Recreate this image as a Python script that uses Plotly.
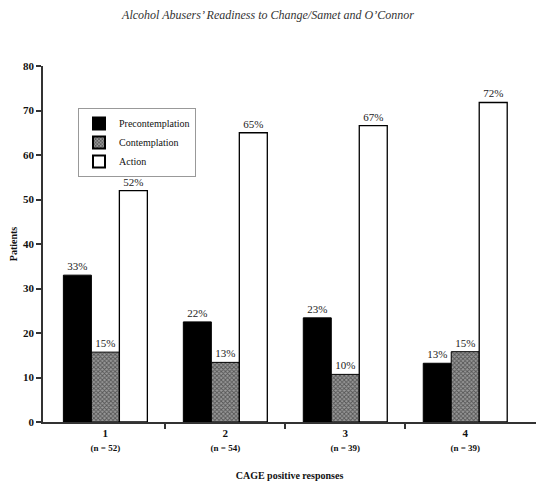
import plotly.graph_objects as go

categories = ["1", "2", "3", "4"]
n_labels = ["(n = 52)", "(n = 54)", "(n = 39)", "(n = 39)"]
precontemplation = [33.0, 22.5, 23.4, 13.2]
contemplation = [15.7, 13.4, 10.7, 15.8]
action = [52.0, 65.0, 66.6, 71.8]
prec_text = ["33%", "22%", "23%", "13%"]
cont_text = ["15%", "13%", "10%", "15%"]
action_text = ["52%", "65%", "67%", "72%"]

xpos = list(range(len(categories)))
serif = "Liberation Serif"

fig = go.Figure()
fig.add_trace(go.Bar(
    x=xpos, y=precontemplation, name="Precontemplation",
    marker=dict(color="black", line=dict(color="black", width=1)),
    text=prec_text, textposition="outside", cliponaxis=False,
    textfont=dict(family=serif, size=11, color="#222"),
))
fig.add_trace(go.Bar(
    x=xpos, y=contemplation, name="Contemplation",
    marker=dict(color="white", line=dict(color="black", width=1),
                pattern=dict(shape="x", size=3, solidity=0.5, fgcolor="#111", bgcolor="#999")),
    text=cont_text, textposition="outside", cliponaxis=False,
    textfont=dict(family=serif, size=11, color="#222"),
))
fig.add_trace(go.Bar(
    x=xpos, y=action, name="Action",
    marker=dict(color="white", line=dict(color="black", width=1.3)),
    text=action_text, textposition="outside", cliponaxis=False,
    textfont=dict(family=serif, size=11, color="#222"),
))

ticktext = [f"<b>{c}</b><br><span style='font-size:9px'><b>{n}</b></span>" for c, n in zip(categories, n_labels)]

fig.update_layout(
    width=536, height=484,
    margin=dict(l=43, r=0, t=66, b=62),
    paper_bgcolor="white", plot_bgcolor="white",
    barmode="group", bargap=0.3, bargroupgap=0,
    font=dict(family=serif, color="#111"),
    title=dict(text="<i>Alcohol Abusers’ Readiness to Change/Samet and O’Connor</i>",
               x=0.5, xanchor="center", y=0.97, yanchor="middle",
               font=dict(family=serif, size=12, color="#333")),
    showlegend=True,
    legend=dict(x=0.071, y=0.882, xanchor="left", yanchor="top",
                bordercolor="#999", borderwidth=1, bgcolor="white",
                font=dict(family=serif, size=10, color="#111"),
                tracegroupgap=0, itemwidth=30, itemsizing="constant"),
    xaxis=dict(
        range=[-0.52, 3.59], tickvals=xpos, ticktext=ticktext, ticks="",
        tickfont=dict(family=serif, size=11, color="#111"),
        showline=True, linecolor="#333", linewidth=1.5, showgrid=False, zeroline=False,
        minor=dict(tickvals=[0.5, 1.5, 2.5], ticks="outside", ticklen=5, tickcolor="#333", tickwidth=1.5),
        title=dict(text="<b>CAGE positive responses</b>", font=dict(family=serif, size=10, color="#111"), standoff=20),
    ),
    yaxis=dict(
        range=[0, 80], dtick=10, ticks="outside", ticklen=5, tickcolor="#333", tickwidth=1.5,
        tickfont=dict(family=serif, size=11, color="#111"), tickprefix="<b>", ticksuffix="</b>",
        showline=True, linecolor="#333", linewidth=1.5, showgrid=False, zeroline=False,
        title=dict(text="<b>Patients</b>", font=dict(family=serif, size=10, color="#111"), standoff=4),
    ),
)

fig.write_html("out.html", config={"displayModeBar": False},
               post_script="document.body.style.margin='0';")
